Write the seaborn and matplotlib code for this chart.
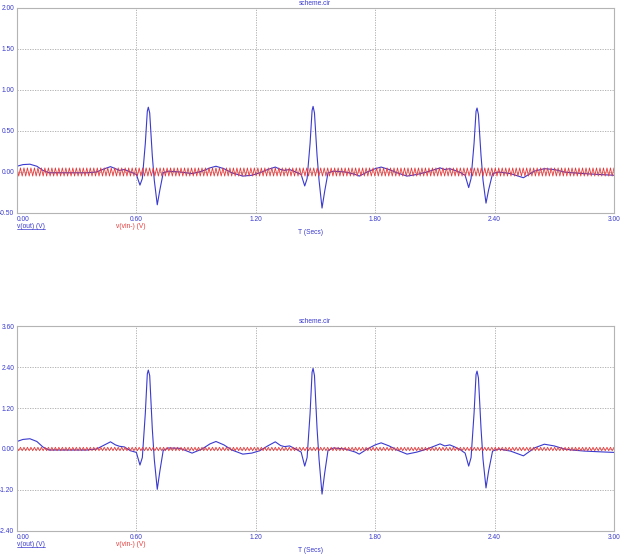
import numpy as np
import pandas as pd
import matplotlib
matplotlib.use('Agg')
import matplotlib.pyplot as plt
import seaborn as sns
from matplotlib.lines import Line2D

# time points of v(out)
t_out = [0.000, 0.030, 0.065, 0.100, 0.130, 0.160, 0.250, 0.350, 0.400, 0.440,
         0.470, 0.495, 0.515, 0.540, 0.570, 0.600, 0.618, 0.630, 0.645, 0.655,
         0.660, 0.667, 0.680, 0.690, 0.705, 0.718, 0.735, 0.760, 0.820, 0.880,
         0.930, 0.970, 1.000, 1.040, 1.080, 1.135, 1.180, 1.220, 1.260, 1.298,
         1.325, 1.345, 1.370, 1.400, 1.428, 1.446, 1.458, 1.473, 1.483, 1.488,
         1.495, 1.508, 1.518, 1.533, 1.546, 1.563, 1.590, 1.650, 1.700, 1.720,
         1.760, 1.800, 1.830, 1.870, 1.910, 1.960, 2.010, 2.060, 2.100, 2.126,
         2.150, 2.175, 2.200, 2.230, 2.252, 2.270, 2.282, 2.297, 2.307, 2.312,
         2.319, 2.332, 2.342, 2.357, 2.370, 2.390, 2.420, 2.480, 2.545, 2.600,
         2.650, 2.700, 2.750, 2.790, 2.850, 2.920, 3.000]

# top panel v(out)
vout_top = [0.07, 0.09, 0.095, 0.07, 0.02, -0.01, -0.01, -0.01, 0.00, 0.04,
            0.065, 0.04, 0.02, 0.03, 0.00, -0.03, -0.16, -0.08, 0.35, 0.74,
            0.79, 0.72, 0.20, -0.10, -0.40, -0.22, -0.01, 0.01, 0.00, -0.02,
            0.01, 0.05, 0.07, 0.04, -0.01, -0.05, -0.04, -0.01, 0.03, 0.06,
            0.03, 0.02, 0.03, 0.00, -0.03, -0.17, -0.08, 0.35, 0.75, 0.80,
            0.72, 0.20, -0.10, -0.44, -0.24, -0.01, 0.01, 0.00, -0.03, -0.05,
            0.00, 0.04, 0.06, 0.03, -0.01, -0.05, -0.03, 0.00, 0.03, 0.05,
            0.03, 0.04, 0.02, -0.01, -0.04, -0.19, -0.08, 0.35, 0.74, 0.78,
            0.70, 0.20, -0.10, -0.38, -0.22, -0.02, 0.00, -0.02, -0.07, 0.01,
            0.04, 0.03, 0.00, -0.01, -0.02, -0.03, -0.04]

# bottom panel v(out)
vout_bot = [0.22, 0.28, 0.30, 0.22, 0.06, -0.03, -0.03, -0.03, 0.00, 0.12,
            0.21, 0.12, 0.08, 0.06, -0.05, -0.10, -0.47, -0.25, 1.05, 2.20,
            2.31, 2.15, 0.60, -0.30, -1.18, -0.65, -0.04, 0.03, 0.02, -0.12,
            0.00, 0.15, 0.22, 0.12, -0.03, -0.15, -0.12, -0.05, 0.09, 0.21,
            0.10, 0.07, 0.09, 0.00, -0.09, -0.50, -0.25, 1.05, 2.25, 2.36,
            2.15, 0.60, -0.30, -1.32, -0.72, -0.04, 0.03, 0.00, -0.09, -0.15,
            0.00, 0.12, 0.18, 0.09, -0.03, -0.15, -0.09, 0.00, 0.09, 0.15,
            0.09, 0.12, 0.06, -0.03, -0.12, -0.50, -0.25, 1.05, 2.18, 2.28,
            2.08, 0.60, -0.30, -1.14, -0.65, -0.06, 0.00, -0.06, -0.20, 0.03,
            0.14, 0.09, 0.00, -0.03, -0.06, -0.08, -0.10]

# v(vin-) interference, peaks read as +/-0.05 V
vin = [0.05, -0.05, 0.05, -0.05, 0.05, -0.05, 0.05, -0.05, 0.05, -0.05, 0.05, -0.05, 0.05, -0.05, 0.05, -0.05, 0.05, -0.05,
       0.05, -0.05, 0.05, -0.05, 0.05, -0.05, 0.05, -0.05, 0.05, -0.05, 0.05, -0.05, 0.05, -0.05, 0.05, -0.05, 0.05, -0.05,
       0.05, -0.05, 0.05, -0.05, 0.05, -0.05, 0.05, -0.05, 0.05, -0.05, 0.05, -0.05, 0.05, -0.05, 0.05, -0.05, 0.05, -0.05,
       0.05, -0.05, 0.05, -0.05, 0.05, -0.05, 0.05, -0.05, 0.05, -0.05, 0.05, -0.05, 0.05, -0.05, 0.05, -0.05, 0.05, -0.05,
       0.05, -0.05, 0.05, -0.05, 0.05, -0.05, 0.05, -0.05, 0.05, -0.05, 0.05, -0.05, 0.05, -0.05, 0.05, -0.05, 0.05, -0.05,
       0.05, -0.05, 0.05, -0.05, 0.05, -0.05, 0.05, -0.05, 0.05, -0.05, 0.05, -0.05, 0.05, -0.05, 0.05, -0.05, 0.05, -0.05,
       0.05, -0.05, 0.05, -0.05, 0.05, -0.05, 0.05, -0.05, 0.05, -0.05, 0.05, -0.05, 0.05, -0.05, 0.05, -0.05, 0.05, -0.05,
       0.05, -0.05, 0.05, -0.05, 0.05, -0.05, 0.05, -0.05, 0.05, -0.05, 0.05, -0.05, 0.05, -0.05, 0.05, -0.05, 0.05, -0.05,
       0.05, -0.05, 0.05, -0.05, 0.05, -0.05, 0.05, -0.05, 0.05, -0.05, 0.05, -0.05, 0.05, -0.05, 0.05, -0.05, 0.05, -0.05,
       0.05, -0.05, 0.05, -0.05, 0.05, -0.05, 0.05, -0.05, 0.05, -0.05, 0.05, -0.05, 0.05, -0.05, 0.05, -0.05, 0.05, -0.05,
       0.05, -0.05, 0.05, -0.05, 0.05, -0.05, 0.05, -0.05, 0.05, -0.05, 0.05, -0.05, 0.05, -0.05, 0.05, -0.05, 0.05, -0.05,
       0.05, -0.05, 0.05, -0.05, 0.05, -0.05, 0.05, -0.05, 0.05, -0.05, 0.05, -0.05, 0.05, -0.05, 0.05, -0.05, 0.05, -0.05,
       0.05, -0.05, 0.05, -0.05, 0.05, -0.05, 0.05, -0.05, 0.05, -0.05, 0.05, -0.05, 0.05, -0.05, 0.05, -0.05, 0.05, -0.05,
       0.05, -0.05, 0.05, -0.05, 0.05, -0.05, 0.05, -0.05, 0.05, -0.05, 0.05, -0.05, 0.05, -0.05, 0.05, -0.05, 0.05, -0.05,
       0.05, -0.05, 0.05, -0.05, 0.05, -0.05, 0.05, -0.05, 0.05, -0.05, 0.05, -0.05, 0.05, -0.05, 0.05, -0.05, 0.05, -0.05,
       0.05, -0.05, 0.05, -0.05, 0.05, -0.05, 0.05, -0.05, 0.05, -0.05, 0.05, -0.05, 0.05, -0.05, 0.05, -0.05, 0.05, -0.05,
       0.05, -0.05, 0.05, -0.05, 0.05, -0.05, 0.05, -0.05, 0.05, -0.05, 0.05, -0.05, 0.05, -0.05, 0.05, -0.05, 0.05, -0.05,
       0.05, -0.05, 0.05, -0.05, 0.05, -0.05, 0.05, -0.05, 0.05, -0.05, 0.05, -0.05, 0.05, -0.05, 0.05, -0.05, 0.05, -0.05,
       0.05, -0.05, 0.05, -0.05, 0.05, -0.05, 0.05, -0.05, 0.05, -0.05, 0.05, -0.05, 0.05, -0.05, 0.05, -0.05, 0.05, -0.05,
       0.05]
t_vin = np.linspace(0, 3, len(vin))

x_ticks = [0.0, 0.6, 1.2, 1.8, 2.4, 3.0]
y_ticks_top = [-0.5, 0.0, 0.5, 1.0, 1.5, 2.0]
y_ticks_bot = [-2.4, -1.2, 0.0, 1.2, 2.4, 3.6]

title = 'scheme.cir'
xlabel = 'T (Secs)'
name_out = 'v(out) (V)'
name_vin = 'v(vin-) (V)'

blue = '#3a3acf'
red = '#e83a3a'
axis_gray = '#b4b4b4'
fs = 4.8

sns.set_style('white')
plt.rcParams['font.family'] = ['Liberation Sans', 'DejaVu Sans']

fig = plt.figure(figsize=(6.24, 5.59), dpi=100)
ax_top = fig.add_axes([0.0272, 0.6190, 0.9567, 0.3667])
ax_bot = fig.add_axes([0.0272, 0.0501, 0.9567, 0.3667])

underlines = []
for ax, vout, yt in [(ax_top, vout_top, y_ticks_top), (ax_bot, vout_bot, y_ticks_bot)]:
    sns.lineplot(x=t_out, y=vout, ax=ax, color=blue, lw=0.8, estimator=None, sort=False)
    sns.lineplot(x=t_vin, y=vin, ax=ax, color=red, lw=0.6, estimator=None, sort=False)
    ax.set_xlim(0, 3)
    ax.set_ylim(yt[0], yt[-1])
    ax.set_xticks(x_ticks)
    ax.set_yticks(yt)
    ax.set_xticklabels(['%.2f' % v for v in x_ticks])
    ax.set_yticklabels(['%.2f' % v for v in yt])
    ax.get_xticklabels()[0].set_ha('left')
    ax.grid(True, ls=(0, (1.5, 1.5)), color='#a8a8a8', lw=0.6)
    for s in ax.spines.values():
        s.set_color(axis_gray)
        s.set_linewidth(0.8)
    ax.tick_params(axis='both', length=1.5, width=0.6, color=axis_gray, pad=0.5,
                   labelsize=fs, labelcolor=blue)
    ax.set_xlabel('')
    ax.set_ylabel('')
    ax.text(0.499, 1.006, title, transform=ax.transAxes, ha='center', va='bottom',
            fontsize=fs, color=blue)
    ax.text(0.491, -0.095, xlabel, transform=ax.transAxes, ha='center', va='center',
            fontsize=fs, color=blue)
    txt = ax.text(0.0, -0.064, name_out, transform=ax.transAxes, ha='left', va='center',
                  fontsize=fs, color=blue)
    underlines.append(txt)
    ax.text(0.166, -0.064, name_vin, transform=ax.transAxes, ha='left', va='center',
            fontsize=fs, color=red)

# underline the v(out) names like the simulator does
fig.canvas.draw()
inv = fig.transFigure.inverted()
for txt in underlines:
    bb = txt.get_window_extent()
    (x0, y0), (x1, _) = inv.transform([(bb.x0, bb.y0 + 1), (bb.x1, bb.y0 + 1)])
    fig.add_artist(Line2D([x0, x1], [y0, y0], transform=fig.transFigure,
                          color=blue, lw=0.5))

fig.savefig('out.png', dpi=100)
